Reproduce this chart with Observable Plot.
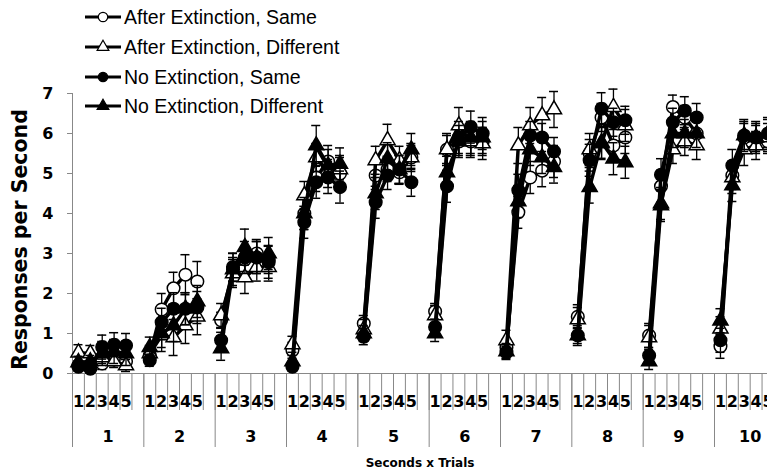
<!DOCTYPE html>
<html><head><meta charset="utf-8">
<script src="https://cdn.jsdelivr.net/npm/d3@7"></script>
<script src="https://cdn.jsdelivr.net/npm/@observablehq/plot@0.6"></script>
<style>
html,body{margin:0;padding:0;background:#fff;}
#wrap{position:relative;width:767px;height:472px;overflow:hidden;background:#fff;}
#wrap svg.plot{position:absolute;left:0;top:0;max-width:none;}
#legend{position:absolute;left:0;top:0;}
</style></head><body><div id="wrap"></div>
<script>
const trials = [1,2,3,4,5,6,7,8,9,10];
const seconds = [1,2,3,4,5];
const seriesNames = ["After Extinction, Same","After Extinction, Different","No Extinction, Same","No Extinction, Different"];
const yTicks = [0,1,2,3,4,5,6,7];
const xTitle = "Seconds x Trials";
const yTitle = "Responses per Second";

// means, 10 trials x 5 seconds each
const aesMean = [0.2,0.2,0.25,0.35,0.3, 0.45,1.6,2.13,2.47,2.3, 1.33,2.6,2.85,3.0,2.85, 0.58,4.0,4.9,5.3,5.0,
  1.25,4.95,5.1,5.03,5.4, 1.55,5.6,5.8,5.8,5.8, 0.65,4.03,4.9,5.07,5.3, 1.42,5.5,6.4,5.7,5.9,
  0.95,4.68,6.66,6.4,6.0, 0.68,4.95,5.9,5.9,5.8];
const aedMean = [0.52,0.5,0.4,0.3,0.2, 0.5,0.95,0.9,1.2,1.42, 1.45,2.5,2.4,2.66,2.66, 0.73,4.45,5.4,5.0,5.1,
  1.1,5.33,5.83,5.33,5.4, 1.45,5.6,6.2,5.8,5.75, 0.83,5.7,6.2,6.45,6.6, 1.35,5.6,5.75,6.66,6.2,
  0.9,4.25,5.6,5.8,5.7, 1.12,4.9,5.6,5.7,5.9];
const nesMean = [0.17,0.12,0.66,0.72,0.7, 0.33,1.28,1.62,1.62,1.65, 0.83,2.66,2.9,2.9,2.78, 0.17,3.78,4.78,4.9,4.66,
  0.92,4.28,4.95,5.1,4.78, 1.16,4.68,5.9,6.16,6.0, 0.53,4.58,5.95,5.9,5.55, 0.95,5.33,6.62,6.28,6.33,
  0.45,4.97,6.28,6.57,6.4, 0.83,5.2,5.95,5.9,6.0];
const nedMean = [0.28,0.3,0.5,0.55,0.5, 0.66,1.0,1.2,1.62,1.8, 0.63,2.6,3.16,2.9,3.0, 0.3,4.0,5.7,5.2,5.24,
  1.0,4.5,5.37,5.1,5.6, 1.0,5.03,5.8,5.9,5.9, 0.55,4.3,5.6,5.4,5.16, 0.95,4.66,5.78,5.37,5.28,
  0.3,4.2,6.0,6.0,6.0, 1.32,4.7,5.95,5.9,6.0];

// standard errors
const aesSE = [.1,.1,.15,.15,.15, .15,.4,.4,.5,.5, .2,.3,.3,.35,.35, .2,.4,.35,.4,.4,
  .2,.35,.3,.3,.3, .2,.35,.35,.35,.35, .2,.4,.4,.4,.4, .3,.35,.35,.4,.4, .3,.4,.3,.3,.3, .3,.35,.35,.3,.3];
const aedSE = [.2,.2,.15,.15,.15, .2,.4,.45,.45,.45, .3,.35,.4,.35,.35, .2,.35,.35,.35,.35,
  .25,.35,.4,.35,.35, .25,.4,.45,.4,.4, .25,.45,.45,.45,.45, .3,.4,.4,.45,.4, .3,.4,.35,.35,.35, .3,.4,.4,.35,.35];
const nesSE = [.1,.1,.3,.3,.3, .15,.35,.4,.4,.4, .2,.35,.4,.4,.4, .1,.4,.4,.4,.4,
  .2,.4,.35,.35,.35, .2,.4,.4,.4,.4, .15,.4,.35,.35,.35, .2,.4,.4,.35,.35, .2,.4,.35,.35,.35, .3,.4,.35,.35,.35];
const nedSE = [.15,.15,.3,.3,.3, .25,.35,.4,.4,.4, .3,.4,.45,.4,.4, .15,.4,.5,.4,.4,
  .2,.4,.4,.35,.4, .2,.4,.4,.4,.4, .2,.4,.4,.4,.4, .25,.4,.4,.4,.4, .2,.4,.35,.35,.35, .3,.4,.4,.4,.4];

const means = [aesMean, aedMean, nesMean, nedMean];
const ses = [aesSE, aedSE, nesSE, nedSE];
const symbols = ["circle","triangle","circle","triangle"];
const fills = ["white","white","black","black"];

const slotsPerTrial = seconds.length + 1; // one blank category between trials
const nSlots = trials.length * slotsPerTrial;
const slotPx = 11.889;
const left = 72;

function rowsFor(i) {
  const out = [];
  trials.forEach((t, ti) => seconds.forEach((s, si) => {
    const k = ti * seconds.length + si;
    out.push({series: seriesNames[i], trial: t, second: s,
      pos: ti * slotsPerTrial + si + 0.5, mean: means[i][k], se: ses[i][k]});
  }));
  return out;
}

const marks = [];
const font = "DejaVu Sans";
// axes
marks.push(Plot.frame({anchor: "left", stroke: "#888"}));
marks.push(Plot.ruleY([0], {stroke: "#888"}));
marks.push(Plot.axisY({ticks: yTicks, tickSize: 5, tickPadding: 14, tickFormat: d3.format("d"), fontSize: 16, fontWeight: "bold",
  fontFamily: font, label: null, stroke: "#888", fill: "black"}));
const slotEdges = d3.range(0, nSlots + 1);
const trialEdges = trials.map((t, i) => i * slotsPerTrial).concat([nSlots]);
marks.push(Plot.axisX({ticks: slotEdges, tickSize: 37, tickFormat: () => "", label: null, stroke: "#888"}));
marks.push(Plot.axisX({ticks: trialEdges, tickSize: 74, tickFormat: () => "", label: null, stroke: "#888"}));
const slotCenters = [];
const slotLabel = new Map();
trials.forEach((t, ti) => seconds.forEach((s, si) => { const p = ti * slotsPerTrial + si + 0.5; slotCenters.push(p); slotLabel.set(p, String(s)); }));
marks.push(Plot.axisX({ticks: slotCenters, tickSize: 0, tickPadding: 22, tickFormat: d => slotLabel.get(d),
  fontSize: 16, fontWeight: "bold", fontFamily: font, label: null, fill: "black"}));
const trialCenters = trials.map((t, i) => i * slotsPerTrial + slotsPerTrial / 2);
const trialLabel = new Map(trialCenters.map((c, i) => [c, String(trials[i])]));
marks.push(Plot.axisX({ticks: trialCenters, tickSize: 0, tickPadding: 57, tickFormat: d => trialLabel.get(d),
  fontSize: 16, fontWeight: "bold", fontFamily: font, label: null, fill: "black"}));
marks.push(Plot.text([xTitle], {frameAnchor: "bottom", text: d => d, dy: 93, lineAnchor: "bottom",
  fontSize: 12, fontWeight: "bold", fontFamily: font, fill: "black"}));
marks.push(Plot.text([yTitle], {frameAnchor: "left", text: d => d, rotate: -90, dx: -52, dy: 6, textAnchor: "middle",
  fontSize: 20.5, fontWeight: "bold", fontFamily: font, fill: "black"}));

// series
seriesNames.forEach((name, i) => {
  const rows = rowsFor(i);
  marks.push(Plot.line(rows, {x: "pos", y: "mean", z: "trial", stroke: "black", strokeWidth: 3.5}));
  marks.push(Plot.ruleX(rows, {x: "pos", y1: d => d.mean - d.se, y2: d => d.mean + d.se, stroke: "black", strokeWidth: 1.3}));
  const caps = rows.flatMap(d => [{pos: d.pos, v: d.mean - d.se}, {pos: d.pos, v: d.mean + d.se}]);
  marks.push(Plot.ruleY(caps, {y: "v", x1: d => d.pos - 0.38, x2: d => d.pos + 0.38, stroke: "black", strokeWidth: 1.5}));
  marks.push(Plot.dot(rows, {x: "pos", y: "mean", symbol: () => symbols[i], r: symbols[i] === "circle" ? 6.3 : 5.6,
    fill: fills[i], stroke: "black", strokeWidth: 1.5}));
});

const chart = Plot.plot({
  width: 767, height: 472,
  marginTop: 93, marginBottom: 99, marginLeft: left, marginRight: 0,
  style: {fontFamily: font, background: "white", color: "black"},
  x: {type: "linear", domain: [0, nSlots], range: [left, left + nSlots * slotPx]},
  y: {domain: [0, 7], range: [373, 93]},
  symbol: {type: "identity"},
  marks
});
document.getElementById("wrap").appendChild(chart);

// legend overlay
const lg = d3.select("#wrap").append("svg").attr("id", "legend").attr("width", 400).attr("height", 125);
const legendY = [17, 47, 77, 106];
seriesNames.forEach((name, i) => {
  const g = lg.append("g").attr("transform", `translate(0,${legendY[i]})`);
  g.append("line").attr("x1", 85).attr("x2", 121).attr("y1", 0).attr("y2", 0).attr("stroke", "black").attr("stroke-width", 3);
  const sym = symbols[i] === "circle" ? d3.symbolCircle : d3.symbolTriangle;
  g.append("path").attr("transform", "translate(103,0)").attr("d", d3.symbol(sym, symbols[i] === "circle" ? 70 : 60)())
    .attr("fill", fills[i]).attr("stroke", "black").attr("stroke-width", 1.2);
  g.append("text").attr("x", 124).attr("y", 0).attr("dy", "0.35em").attr("font-family", "Liberation Sans")
    .attr("font-size", 19.5).attr("fill", "black").text(name);
});
</script></body></html>
